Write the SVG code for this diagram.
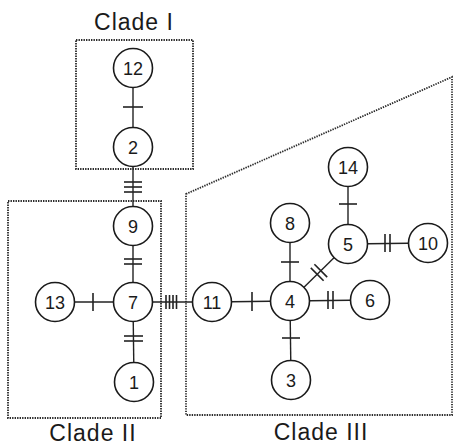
<svg xmlns="http://www.w3.org/2000/svg" width="453" height="447" viewBox="0 0 453 447">
<style>
.bg{fill:#ffffff}
.clade{fill:none;stroke:#2a2a2a;stroke-width:1.8;stroke-dasharray:1.4 1.1}
.edge{stroke:#222;stroke-width:1.4;fill:none}
.tick{stroke:#222;stroke-width:1.6;fill:none}
.node circle{fill:#ffffff;stroke:#1a1a1a;stroke-width:1.6}
.node text{font-family:"Liberation Sans",Arial,sans-serif;font-size:18px;fill:#1a1a1a;text-anchor:middle}
.title{font-family:"Liberation Sans",Arial,sans-serif;font-size:23px;fill:#1a1a1a;text-anchor:middle;letter-spacing:1px}
</style>
<rect class="bg" x="0" y="0" width="453" height="447"/>
<g id="clades">
<rect class="clade" x="76" y="40" width="117" height="129"/>
<rect class="clade" x="8" y="201" width="153" height="217"/>
<polygon class="clade" points="186,194 452,77 452,415 186,415"/>
<text class="title" x="134" y="30">Clade I</text>
<text class="title" x="93" y="441">Clade II</text>
<text class="title" x="321" y="440">Clade III</text>
</g>
<g id="connectors">
<line class="edge" x1="133" y1="68" x2="133" y2="147"/>
<line class="edge" x1="133" y1="147" x2="133" y2="226"/>
<line class="edge" x1="133" y1="226" x2="133" y2="302"/>
<line class="edge" x1="133" y1="302" x2="134" y2="382"/>
<line class="edge" x1="55" y1="302" x2="133" y2="302"/>
<line class="edge" x1="133" y1="302" x2="212" y2="302"/>
<line class="edge" x1="212" y1="302" x2="290" y2="301"/>
<line class="edge" x1="290" y1="223" x2="290" y2="301"/>
<line class="edge" x1="290" y1="301" x2="291" y2="380"/>
<line class="edge" x1="290" y1="301" x2="370" y2="300"/>
<line class="edge" x1="290" y1="301" x2="348" y2="244"/>
<line class="edge" x1="348" y1="167" x2="348" y2="244"/>
<line class="edge" x1="348" y1="244" x2="428" y2="243"/>
<line class="tick" x1="123" y1="107" x2="143" y2="107"/>
<line class="tick" x1="124" y1="182" x2="142" y2="182"/>
<line class="tick" x1="124" y1="187" x2="142" y2="187"/>
<line class="tick" x1="124" y1="192" x2="142" y2="192"/>
<line class="tick" x1="124" y1="259" x2="142" y2="259"/>
<line class="tick" x1="124" y1="264" x2="142" y2="264"/>
<line class="tick" x1="124" y1="336" x2="143" y2="336"/>
<line class="tick" x1="124" y1="341" x2="143" y2="341"/>
<line class="tick" x1="93" y1="293" x2="93" y2="311"/>
<line class="tick" x1="166" y1="295" x2="166" y2="309"/>
<line class="tick" x1="169.5" y1="295" x2="169.5" y2="309"/>
<line class="tick" x1="173" y1="295" x2="173" y2="309"/>
<line class="tick" x1="176.5" y1="295" x2="176.5" y2="309"/>
<line class="tick" x1="252" y1="292" x2="252" y2="311"/>
<line class="tick" x1="281" y1="262" x2="299" y2="262"/>
<line class="tick" x1="282" y1="338" x2="300" y2="338"/>
<line class="tick" x1="328" y1="291" x2="328" y2="309"/>
<line class="tick" x1="333" y1="291" x2="333" y2="309"/>
<line class="tick" x1="339" y1="204" x2="357" y2="204"/>
<line class="tick" x1="385" y1="234" x2="385" y2="252"/>
<line class="tick" x1="390" y1="234" x2="390" y2="252"/>
<line class="tick" x1="310.8" y1="267.9" x2="323.6" y2="280.7"/>
<line class="tick" x1="314.4" y1="264.3" x2="327.2" y2="277.1"/>
</g>
<g id="node12" class="node"><circle cx="133" cy="68" r="19.5"/><text x="133" y="74.5">12</text></g>
<g id="node2" class="node"><circle cx="133" cy="147" r="19.5"/><text x="133" y="153.5">2</text></g>
<g id="node9" class="node"><circle cx="133" cy="226" r="19.5"/><text x="133" y="232.5">9</text></g>
<g id="node7" class="node"><circle cx="133" cy="302" r="19.5"/><text x="133" y="308.5">7</text></g>
<g id="node13" class="node"><circle cx="55" cy="302" r="19.5"/><text x="55" y="308.5">13</text></g>
<g id="node1" class="node"><circle cx="134" cy="382" r="19.5"/><text x="134" y="388.5">1</text></g>
<g id="node11" class="node"><circle cx="212" cy="302" r="19.5"/><text x="212" y="308.5">11</text></g>
<g id="node4" class="node"><circle cx="290" cy="301" r="19.5"/><text x="290" y="307.5">4</text></g>
<g id="node6" class="node"><circle cx="370" cy="300" r="19.5"/><text x="370" y="306.5">6</text></g>
<g id="node3" class="node"><circle cx="291" cy="380" r="19.5"/><text x="291" y="386.5">3</text></g>
<g id="node8" class="node"><circle cx="290" cy="223" r="19.5"/><text x="290" y="229.5">8</text></g>
<g id="node5" class="node"><circle cx="348" cy="244" r="19.5"/><text x="348" y="250.5">5</text></g>
<g id="node14" class="node"><circle cx="348" cy="167" r="19.5"/><text x="348" y="173.5">14</text></g>
<g id="node10" class="node"><circle cx="428" cy="243" r="19.5"/><text x="428" y="249.5">10</text></g>
</svg>
